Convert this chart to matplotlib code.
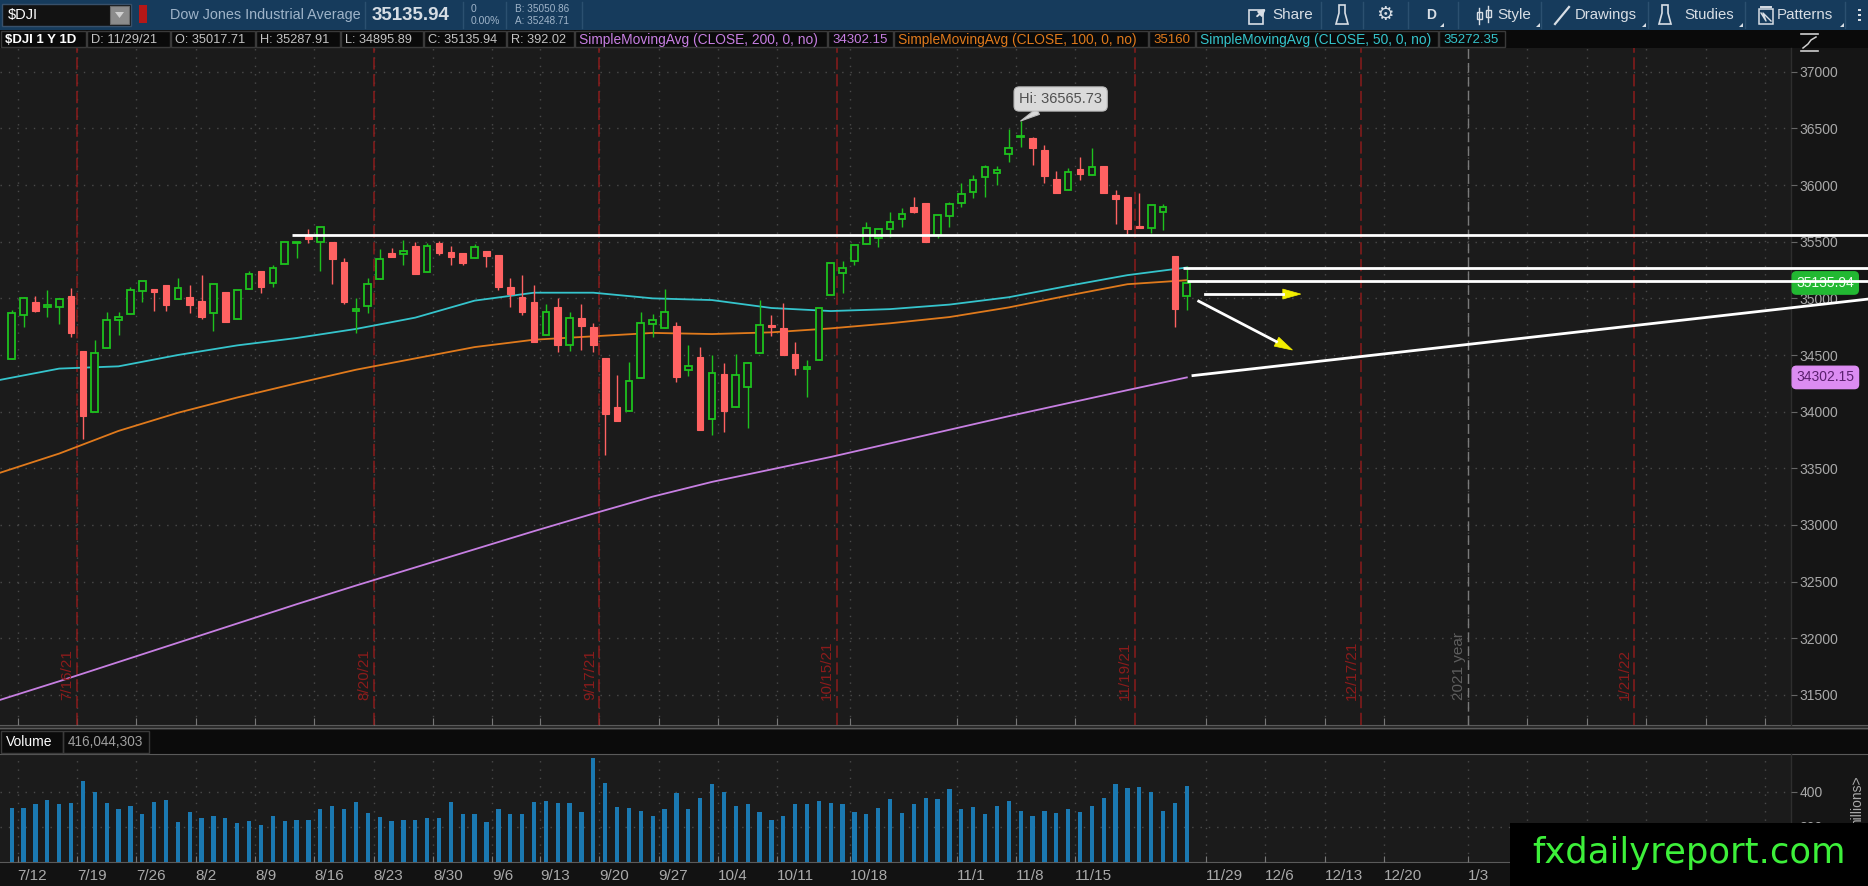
import numpy as np
import matplotlib
matplotlib.use("Agg")
import matplotlib.pyplot as plt
from matplotlib.patches import Rectangle, Polygon

plt.rcParams['font.family'] = ['Liberation Sans', 'DejaVu Sans']

# ---- $DJI daily bars ----
dates = ['7/9', '7/12', '7/13', '7/14', '7/15', '7/16', '7/19', '7/20', '7/21', '7/22',
         '7/23', '7/26', '7/27', '7/28', '7/29', '7/30', '8/2', '8/3', '8/4', '8/5',
         '8/6', '8/9', '8/10', '8/11', '8/12', '8/13', '8/16', '8/17', '8/18', '8/19',
         '8/20', '8/23', '8/24', '8/25', '8/26', '8/27', '8/30', '8/31', '9/1', '9/2',
         '9/3', '9/7', '9/8', '9/9', '9/10', '9/13', '9/14', '9/15', '9/16', '9/17',
         '9/20', '9/21', '9/22', '9/23', '9/24', '9/27', '9/28', '9/29', '9/30', '10/1',
         '10/4', '10/5', '10/6', '10/7', '10/8', '10/11', '10/12', '10/13', '10/14', '10/15',
         '10/18', '10/19', '10/20', '10/21', '10/22', '10/25', '10/26', '10/27', '10/28', '10/29',
         '11/1', '11/2', '11/3', '11/4', '11/5', '11/8', '11/9', '11/10', '11/11', '11/12',
         '11/15', '11/16', '11/17', '11/18', '11/19', '11/22', '11/23', '11/24', '11/26', '11/29']

opens = [34467, 34850, 34965, 34925, 34926, 35018, 34535, 33994, 34564, 34809,
         34862, 35065, 35085, 35120, 34991, 35015, 34976, 34873, 35053, 34817,
         35079, 35241, 35138, 35303, 35491, 35553, 35500, 35500, 35318, 34888,
         34932, 35170, 35397, 35391, 35465, 35235, 35485, 35412, 35397, 35353,
         35418, 35382, 35097, 35015, 34965, 34676, 34920, 34585, 34823, 34747,
         34470, 34038, 34008, 34294, 34773, 34741, 34759, 34367, 34479, 33932,
         34332, 34044, 34214, 34514, 34764, 34735, 34509, 34380, 34456, 35029,
         35226, 35332, 35479, 35529, 35612, 35700, 35803, 35844, 35559, 35727,
         35844, 35941, 36068, 36103, 36274, 36421, 36412, 36309, 36050, 35956,
         36138, 36088, 36168, 35912, 35891, 35638, 35624, 35765, 35374, 35017.71]
highs = [34897, 35010, 35023, 35073, 35000, 35091, 34535, 34632, 34882, 34882,
         35097, 35153, 35085, 35120, 35176, 35115, 35206, 35129, 35053, 35073,
         35244, 35241, 35291, 35497, 35500, 35609, 35632, 35500, 35359, 35006,
         35176, 35432, 35447, 35515, 35500, 35485, 35509, 35465, 35397, 35476,
         35418, 35382, 35176, 35206, 35118, 34947, 35000, 34882, 34947, 34779,
         34470, 34323, 34441, 34882, 34862, 35079, 34794, 34588, 34567, 34500,
         34426, 34509, 34435, 34985, 34853, 34956, 34617, 34456, 34917, 35309,
         35329, 35471, 35677, 35612, 35765, 35794, 35897, 35844, 35735, 35853,
         36015, 36088, 36177, 36168, 36491, 36565.73, 36427, 36353, 36127, 36147,
         36244, 36324, 36168, 35956, 35891, 35932, 35824, 35832, 35374, 35287.91]
lows = [34467, 34745, 34880, 34832, 34770, 34656, 33755, 33994, 34564, 34676,
        34862, 34965, 34888, 34888, 34991, 34873, 34817, 34714, 34794, 34817,
        35079, 35050, 35097, 35303, 35359, 35485, 35241, 35126, 34950, 34697,
        34873, 35170, 35368, 35294, 35212, 35235, 35382, 35294, 35294, 35353,
        35279, 35073, 34926, 34853, 34617, 34676, 34529, 34538, 34544, 34529,
        33617, 33920, 34008, 34294, 34656, 34741, 34264, 34314, 33838, 33794,
        33823, 34044, 33853, 34514, 34667, 34500, 34323, 34132, 34456, 35029,
        35044, 35294, 35479, 35456, 35544, 35632, 35750, 35500, 35530, 35632,
        35809, 35882, 35897, 36000, 36206, 36339, 36177, 36015, 35927, 35956,
        36044, 36088, 35927, 35656, 35568, 35624, 35574, 35603, 34750, 34895.89]
closes = [34873, 35000, 34888, 34940, 34997, 34691, 33964, 34520, 34809, 34838,
          35073, 35153, 35059, 34938, 35094, 34938, 34832, 35129, 34794, 35073,
          35215, 35103, 35271, 35497, 35500, 35521, 35632, 35344, 34965, 34909,
          35126, 35350, 35368, 35418, 35212, 35465, 35397, 35362, 35309, 35450,
          35373, 35097, 35038, 34882, 34617, 34876, 34585, 34823, 34759, 34585,
          33979, 33920, 34270, 34779, 34809, 34876, 34303, 34406, 33838, 34338,
          34008, 34323, 34426, 34764, 34750, 34500, 34388, 34392, 34917, 35309,
          35271, 35471, 35618, 35612, 35677, 35744, 35765, 35500, 35735, 35830,
          35921, 36044, 36162, 36132, 36324, 36436, 36324, 36080, 35927, 36118,
          36097, 36156, 35927, 35874, 35609, 35624, 35824, 35809, 34903, 35135.94]
# volume in millions
volume = [352, 352, 364, 377, 364, 368, 431, 400, 368, 350,
          360, 335, 371, 377, 313, 342, 324, 330, 324, 310,
          317, 306, 330, 317, 320, 320, 350, 360, 350, 371,
          338, 328, 317, 320, 320, 324, 324, 371, 335, 335,
          313, 350, 335, 335, 371, 374, 368, 368, 342, 495,
          425, 356, 352, 346, 331, 350, 396, 350, 382, 422,
          400, 360, 364, 342, 320, 331, 364, 364, 374, 368,
          364, 342, 335, 352, 378, 338, 364, 382, 378, 409,
          350, 356, 335, 360, 374, 346, 330, 346, 338, 350,
          342, 360, 382, 421, 411, 412, 400, 346, 368, 416.044303]

# simple moving averages read at roughly weekly bars
sma_x = [-1, 4, 9, 14, 19, 24, 29, 34, 39, 44, 49, 54, 59, 64, 69, 74, 79, 84, 89, 94, 99]
sma200 = [31455, 31620, 31790, 31960, 32130, 32300, 32465, 32625, 32785, 32945, 33100,
          33250, 33380, 33490, 33600, 33720, 33840, 33960, 34075, 34190, 34302.15]
sma100 = [33460, 33630, 33830, 33990, 34125, 34250, 34370, 34470, 34570, 34635, 34665,
          34695, 34685, 34700, 34735, 34780, 34835, 34920, 35025, 35125, 35160]
sma50 = [34280, 34380, 34400, 34500, 34585, 34650, 34730, 34830, 34980, 35050, 35050,
         35000, 34985, 34915, 34888, 34905, 34945, 35010, 35110, 35205, 35272.35]

# date axis (bar positions of the weekly marks) and option-expiry markers
tick_pos = [0.5, 5.5, 10.5, 15.5, 20.5, 25.5, 30.5, 35.5, 40.5, 44.5, 49.5, 54.5, 59.5,
            64.5, 70.6, 79.6, 84.6, 89.6, 100.6, 105.6, 110.6, 115.6, 122.7, 127.7,
            132.7, 137.7, 142.7, 147.7]
tick_labels = ['7/12', '7/19', '7/26', '8/2', '8/9', '8/16', '8/23', '8/30', '9/6', '9/13',
               '9/20', '9/27', '10/4', '10/11', '10/18', '11/1', '11/8', '11/15', '11/29',
               '12/6', '12/13', '12/20', '1/3', '', '', '', '', '']
expiry_pos = [5.5, 30.5, 49.5, 69.5, 94.6, 113.7, 136.7]
expiry_labels = ['7/16/21', '8/20/21', '9/17/21', '10/15/21', '11/19/21', '12/17/21', '1/21/22']
year_pos = 122.7

# hand drawn lines: (x0, y0, x1, y1) in bar / price units
h_lines = [(23.6, 35563, 156.5, 35563), (98.7, 35272, 156.5, 35272), (99.0, 35155, 156.5, 35155)]
trend_line = (99.4, 34317, 156.5, 34995)
arrows = [(100.5, 35038, 108.6, 35038), (100.0, 34975, 107.9, 34544)]

# ---------------------------------------------------------------
W, H = 1868, 886
CHART_BG = '#1b1b1b'
AXIS_BG = '#151515'
GRID = '#4a4a4a'
LBL = '#a9a9a9'
UP, DN = '#1ec21e', '#ff6262'
C200, C100, C50 = '#c77fe2', '#e07a1c', '#35c4cc'

fig = plt.figure(figsize=(W / 100, H / 100), dpi=100, facecolor=CHART_BG)


def box(x0, y0, x1, y1):
    # pixel box, origin top-left -> figure fractions
    return [x0 / W, 1 - y1 / H, (x1 - x0) / W, (y1 - y0) / H]


bg = fig.add_axes(box(0, 0, W, H), zorder=0)
bg.set_xlim(0, W)
bg.set_ylim(H, 0)
bg.axis('off')
for x0, y0, x1, y1, c in [(0, 0, W, 30, '#163b5c'), (0, 30, W, 48, '#0a0a0a'),
                          (0, 48, 1791, 725, CHART_BG), (1791, 48, W, 725, AXIS_BG),
                          (0, 725, W, 730, '#2a2a2a'), (0, 730, W, 754, '#0b0b0b'),
                          (0, 754, 1791, 862, CHART_BG), (1791, 754, W, 862, AXIS_BG),
                          (0, 862, W, H, '#121212')]:
    bg.add_patch(Rectangle((x0, y0), x1 - x0, y1 - y0, color=c, lw=0))
for yy in (724.5, 727.5, 754, 861.5):
    bg.plot([0, W], [yy, yy], color='#5a5a5a', lw=0.8)
bg.plot([1791, 1791], [48, 725], color='#2e2e2e', lw=1)
bg.plot([1791, 1791], [754, 862], color='#2e2e2e', lw=1)

# ---- price panel ----
ax = fig.add_axes(box(0, 48, 1791, 725), zorder=1)
ax.set_facecolor('none')
ax.set_xlim(-0.986, 149.9)
ax.set_ylim(31234, 37210)
for s in ax.spines.values():
    s.set_visible(False)
ax.set_xticks(tick_pos)
ax.set_xticklabels([])
ax.tick_params(axis='x', direction='in', length=5, color='#777777')
ax.set_yticks(np.arange(31500, 37001, 500))
ax.yaxis.tick_right()
ax.tick_params(axis='y', length=4, color='#666666', labelcolor=LBL, labelsize=10, pad=2)
ax.grid(True, color=GRID, ls=(0, (1, 5)), lw=1.0)
ax.set_axisbelow(True)

for xp, lab in zip(expiry_pos, expiry_labels):
    ax.axvline(xp, color='#8b1c1c', ls=(0, (8, 3)), lw=1.1, zorder=1.5)
    ax.text(xp - 0.2, 31455, lab, rotation=90, ha='right', va='bottom',
            color='#8b1c1c', fontsize=11)
ax.axvline(year_pos, color='#7a7a7a', ls=(0, (7, 3)), lw=1.0, zorder=1.5)
ax.text(year_pos - 0.2, 31455, '2021 year', rotation=90, ha='right', va='bottom',
        color='#5e5e5e', fontsize=11)

ax.plot(sma_x, sma200, color=C200, lw=1.3, zorder=2.6)
ax.plot(sma_x, sma100, color=C100, lw=1.3, zorder=2.6)
ax.plot(sma_x, sma50, color=C50, lw=1.3, zorder=2.6)

bw = 0.56
for i in range(len(closes)):
    o, h, l, c = opens[i], highs[i], lows[i], closes[i]
    col = UP if c >= o else DN
    ax.vlines(i, l, h, color=col, lw=1.0, zorder=3)
    lo = min(o, c)
    ht = max(abs(c - o), 6)
    if c >= o:
        ax.add_patch(Rectangle((i - bw / 2, lo), bw, ht, fc=CHART_BG, ec=col, lw=1.3, zorder=3.5))
    else:
        ax.add_patch(Rectangle((i - bw / 2, lo), bw, ht, fc=col, ec=col, lw=0.8, zorder=3.5))

hi_i = int(np.argmax(highs))
ax.annotate(f'Hi: {highs[hi_i]:.2f}', xy=(hi_i, highs[hi_i]), xytext=(40, 22),
            textcoords='offset pixels', ha='center', va='center', fontsize=10.5,
            color='#505050', zorder=6,
            bbox=dict(boxstyle='round,pad=0.35', fc='#dadada', ec='#bcbcbc', lw=0.8),
            arrowprops=dict(arrowstyle='wedge,tail_width=0.45,shrink_factor=0.5',
                            fc='#dadada', ec='#bcbcbc', lw=0.8, shrinkA=0, shrinkB=0))

# last value flags on the price scale
ytr = ax.get_yaxis_transform()
ax.text(1.003, closes[-1], f'{closes[-1]:.2f}', transform=ytr, ha='left', va='center',
        fontsize=10, color='#f0fff0', zorder=2.5, clip_on=False,
        bbox=dict(boxstyle='round,pad=0.3,rounding_size=0.3', fc='#22b832', ec='#22b832'))
ax.text(1.003, sma200[-1], f'{sma200[-1]:.2f}', transform=ytr, ha='left', va='center',
        fontsize=10, color='#5a1f6e', zorder=2.5, clip_on=False,
        bbox=dict(boxstyle='round,pad=0.3,rounding_size=0.3', fc='#dc8cf2', ec='#dc8cf2'))

# drawings
for x0, y0, x1, y1 in h_lines + [trend_line]:
    ax.plot([x0, x1], [y0, y1], color='white', lw=2, zorder=4, clip_on=False,
            solid_capstyle='butt')

# ---- volume panel ----
vax = fig.add_axes(box(0, 754, 1791, 862), zorder=1)
vax.set_facecolor('none')
vax.set_xlim(-0.986, 149.9)
vax.set_ylim(199, 507.7)
for s in vax.spines.values():
    s.set_visible(False)
vax.bar(np.arange(len(volume)), volume, width=0.36, color='#1b79b1', zorder=3)
vax.set_xticks(tick_pos)
vax.set_xticklabels(tick_labels, ha='left')
vax.tick_params(axis='x', direction='in', length=4, color='#777777', labelcolor=LBL,
                labelsize=11, pad=5)
vax.set_yticks([300, 400])
vax.yaxis.tick_right()
vax.tick_params(axis='y', length=4, color='#666666', labelcolor=LBL, labelsize=10, pad=2)
vax.grid(True, color=GRID, ls=(0, (1, 5)), lw=1.0)
vax.set_axisbelow(True)

# ---- overlay: header, labels, arrows, watermark ----
top = fig.add_axes(box(0, 0, W, H), zorder=3)
top.set_xlim(0, W)
top.set_ylim(H, 0)
top.axis('off')
top.patch.set_visible(False)


def txt(x, y, s, **kw):
    kw.setdefault('va', 'center')
    kw.setdefault('ha', 'left')
    top.text(x, y, s, **kw)


def vline(x, y0, y1, c):
    top.plot([x, x], [y0, y1], color=c, lw=1)


# toolbar
top.add_patch(Rectangle((2, 4), 129, 22, fc='#121212', ec='#38506a', lw=1))
txt(8, 15, '$DJI', color='white', fontsize=10.5)
top.add_patch(Rectangle((110, 6), 19, 18, fc='#8c8c8c', ec='#6a6a6a', lw=0.8))
top.add_patch(Polygon([(115, 12), (124, 12), (119.5, 18)], fc='#d0d0d0', lw=0))
top.add_patch(Rectangle((139, 5), 8, 18, fc='#b41818', lw=0))
txt(170, 15, 'Dow Jones Industrial Average', color='#9fb4c9', fontsize=10.4)
txt(372, 15, f'{closes[-1]:.2f}', color='#d6dde4', fontsize=13.5, fontweight='bold')
txt(471, 9, '0', color='#9fb4c9', fontsize=7.5)
txt(471, 21, '0.00%', color='#9fb4c9', fontsize=7.5)
txt(515, 9, 'B: 35050.86', color='#9fb4c9', fontsize=7.2)
txt(515, 21, 'A: 35248.71', color='#9fb4c9', fontsize=7.2)
for xs in (365, 463, 506, 582, 1321, 1363, 1408, 1458, 1541, 1648, 1745, 1845):
    vline(xs, 2, 28, '#2b5070')

ICON = '#d8dee5'
top.add_patch(Rectangle((1249, 10), 14, 14, fill=False, ec=ICON, lw=1.2))
top.annotate('', xy=(1268, 7), xytext=(1255, 18),
             arrowprops=dict(arrowstyle='-|>', color=ICON, lw=1.4))
txt(1272, 15, 'Share', color=ICON, fontsize=11)


def flask(x0):
    top.add_patch(Polygon([(x0 + 3, 5), (x0 + 3, 13), (x0, 24), (x0 + 12, 24),
                           (x0 + 9, 13), (x0 + 9, 5)], fill=False, ec=ICON, lw=1.2))


flask(1336)
txt(1385, 15, '\u2699', color=ICON, fontsize=14, ha='center')
txt(1431, 15, 'D', color=ICON, fontsize=10, fontweight='bold', ha='center')
for xc, y0, y1, b0, b1 in ((1479, 8, 24, 12, 19), (1488, 6, 22, 10, 17)):
    vline(xc, y0, y1, ICON)
    top.add_patch(Rectangle((xc - 2.5, b0), 5, b1 - b0, fc='#163b5c', ec=ICON, lw=1))
txt(1497, 15, 'Style', color=ICON, fontsize=11)
top.plot([1555, 1569], [24, 7], color=ICON, lw=1.6)
txt(1575, 15, 'Drawings', color=ICON, fontsize=10.7)
flask(1659)
txt(1684, 15, 'Studies', color=ICON, fontsize=10.7)
top.add_patch(Rectangle((1759, 9), 14, 15, fill=False, ec=ICON, lw=1.1))
top.plot([1761, 1771], [7, 7], color=ICON, lw=1.4)
top.plot([1761, 1766, 1763, 1771], [13, 21, 13, 21], color=ICON, lw=1)
txt(1777, 15, 'Patterns', color=ICON, fontsize=10.9)
for xt in (1440, 1536, 1642, 1739, 1840):
    top.add_patch(Polygon([(xt, 27), (xt + 4, 27), (xt + 4, 23)], fc=ICON, lw=0))
for yy in (10, 15, 20):
    top.add_patch(Rectangle((1858, yy - 1), 3, 2, fc=ICON, lw=0))

# study info row
GR = '#c4c4c4'
cells = [
    (0, 86, '$DJI 1 Y 1D', 'white', 'bold', 9.5),
    (86, 170, 'D: 11/29/21', GR, 'normal', 9.3),
    (170, 255, f'O: {opens[-1]:.2f}', GR, 'normal', 9.2),
    (255, 340, f'H: {highs[-1]:.2f}', GR, 'normal', 9.2),
    (340, 423, f'L: {lows[-1]:.2f}', GR, 'normal', 9.2),
    (423, 506, f'C: {closes[-1]:.2f}', GR, 'normal', 9.2),
    (506, 574, f'R: {highs[-1] - lows[-1]:.2f}', GR, 'normal', 9.2),
    (574, 827, 'SimpleMovingAvg (CLOSE, 200, 0, no)', C200, 'normal', 9.9),
    (827, 893, f'{sma200[-1]:.2f}', C200, 'normal', 9.5),
    (893, 1148, 'SimpleMovingAvg (CLOSE, 100, 0, no)', C100, 'normal', 9.9),
    (1148, 1195, f'{sma100[-1]:.0f}', C100, 'normal', 9.5),
    (1195, 1438, 'SimpleMovingAvg (CLOSE, 50, 0, no)', C50, 'normal', 9.9),
    (1438, 1505, f'{sma50[-1]:.2f}', C50, 'normal', 9.5),
]
for x0, x1, s, c, fw, fs in cells:
    top.add_patch(Rectangle((x0 + 0.5, 31), x1 - x0 - 1, 16, fill=False, ec='#3a3a3a', lw=1))
    txt(x0 + 5, 39.5, s, color=c, fontsize=fs, fontweight=fw)
# scale icon in the top right corner
top.plot([1801, 1818], [34, 34], color='#cfcfcf', lw=1.2)
top.plot([1801, 1818], [51, 51], color='#cfcfcf', lw=1.2)
top.plot([1803, 1808, 1811, 1816], [48, 44, 40, 37], color='#cfcfcf', lw=1.1)

# volume header
top.add_patch(Rectangle((1, 731), 62, 22, fill=False, ec='#3a3a3a', lw=1))
top.add_patch(Rectangle((63, 731), 86, 22, fill=False, ec='#3a3a3a', lw=1))
txt(6, 742, 'Volume', color='white', fontsize=10)
txt(68, 742, f'{volume[-1] * 1e6:,.0f}', color='#a0a0a0', fontsize=9.8)
txt(1857, 776, 'millions>', color=LBL, fontsize=10, rotation=90, va='top', ha='center')


# arrows drawn on the chart (white shaft, yellow head)
def to_px(x, y):
    return top.transData.inverted().transform(ax.transData.transform((x, y)))


for x0, y0, x1, y1 in arrows:
    p0 = to_px(x0, y0)
    p1 = to_px(x1, y1)
    d = p1 - p0
    u = d / np.hypot(d[0], d[1])
    nrm = np.array([-u[1], u[0]])
    base = p1 - u * 18
    top.plot([p0[0], base[0]], [p0[1], base[1]], color='white', lw=2)
    top.add_patch(Polygon([p1, base + nrm * 5, base - nrm * 5], closed=True,
                          fc='#f2ee00', ec='#f2ee00', lw=0.5))

# watermark
top.add_patch(Rectangle((1510, 823), W - 1510, H - 823, fc='black', lw=0, zorder=10))
top.text(1689, 853, 'fxdailyreport.com', color='#3df03a', fontsize=25.5,
         family=['DejaVu Sans'], ha='center', va='center', zorder=11)

fig.savefig('out.png', dpi=100, facecolor=fig.get_facecolor())
